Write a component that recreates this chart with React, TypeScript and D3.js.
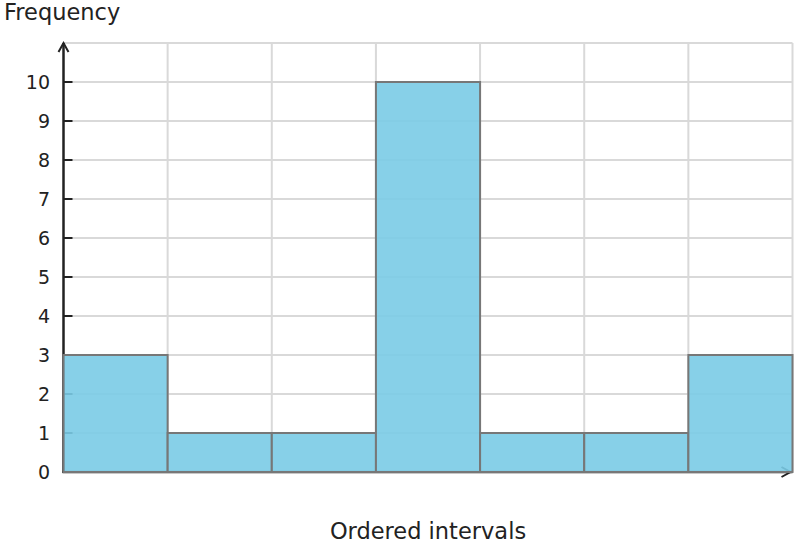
import React, { useRef, useEffect } from 'react';
import * as d3 from 'd3';

const intervals = ['I1', 'I2', 'I3', 'I4', 'I5', 'I6', 'I7'];
const frequencies = [3, 1, 1, 10, 1, 1, 3];
const yTicks = [0, 1, 2, 3, 4, 5, 6, 7, 8, 9, 10];

const width = 796;
const height = 548;
const marginL = 63.5;
const marginR = 3.5;
const marginT = 43;
const marginB = 76;

const App: React.FC = () => {
    const svgRef = useRef<SVGSVGElement>(null);

    useEffect(() => {
        if (!svgRef.current) return;
        const svg = d3.select(svgRef.current);
        svg.selectAll('*').remove();

        const font = '"DejaVu Sans", sans-serif';

        const xScale = d3.scaleBand()
            .domain(intervals)
            .range([marginL, width - marginR])
            .padding(0);

        const yScale = d3.scaleLinear()
            .domain([0, 11])
            .range([height - marginB, marginT]);

        // grid
        const grid = svg.append('g');
        grid.selectAll('.hgrid')
            .data([...yTicks.slice(1), 11])
            .enter()
            .append('line')
            .attr('x1', marginL)
            .attr('x2', width - marginR)
            .attr('y1', d => yScale(d))
            .attr('y2', d => yScale(d))
            .attr('stroke', '#d9d9d9')
            .attr('stroke-width', 2);
        grid.selectAll('.vgrid')
            .data(intervals)
            .enter()
            .append('line')
            .attr('x1', d => xScale(d)! + xScale.bandwidth())
            .attr('x2', d => xScale(d)! + xScale.bandwidth())
            .attr('y1', yScale(0))
            .attr('y2', yScale(11))
            .attr('stroke', '#d9d9d9')
            .attr('stroke-width', 2);

        // axes
        const axisColor = '#222';
        svg.append('line')
            .attr('x1', marginL).attr('x2', marginL)
            .attr('y1', yScale(0) + 1).attr('y2', yScale(11))
            .attr('stroke', axisColor).attr('stroke-width', 2.5);
        svg.append('path')
            .attr('d', `M${marginL - 5},${yScale(11) + 9} L${marginL},${yScale(11)} L${marginL + 5},${yScale(11) + 9}`)
            .attr('fill', 'none').attr('stroke', axisColor).attr('stroke-width', 2);
        svg.append('line')
            .attr('x1', marginL - 1).attr('x2', width - marginR)
            .attr('y1', yScale(0)).attr('y2', yScale(0))
            .attr('stroke', axisColor).attr('stroke-width', 2.5);
        svg.append('path')
            .attr('d', `M${width - marginR - 11},${yScale(0) - 5} L${width - marginR - 2},${yScale(0)} L${width - marginR - 11},${yScale(0) + 5}`)
            .attr('fill', 'none').attr('stroke', axisColor).attr('stroke-width', 2);

        // y ticks
        svg.selectAll('.ytick')
            .data(yTicks)
            .enter()
            .append('line')
            .attr('x1', marginL)
            .attr('x2', marginL + 9)
            .attr('y1', d => yScale(d))
            .attr('y2', d => yScale(d))
            .attr('stroke', axisColor)
            .attr('stroke-width', 2);
        svg.selectAll('.ylabel')
            .data(yTicks)
            .enter()
            .append('text')
            .attr('x', 50)
            .attr('y', d => yScale(d))
            .attr('dy', '0.35em')
            .attr('text-anchor', 'end')
            .attr('font-family', font)
            .attr('font-size', 19)
            .attr('fill', '#222')
            .text(d => d);

        // bars
        svg.selectAll('.bar')
            .data(frequencies)
            .enter()
            .append('rect')
            .attr('x', (d, i) => xScale(intervals[i])!)
            .attr('y', d => yScale(d))
            .attr('width', xScale.bandwidth())
            .attr('height', d => yScale(0) - yScale(d))
            .attr('fill', 'rgb(122,203,230)')
            .attr('fill-opacity', 0.9)
            .attr('stroke', '#777')
            .attr('stroke-width', 2);

        // titles
        svg.append('text')
            .attr('x', 4)
            .attr('y', 20)
            .attr('font-family', font)
            .attr('font-size', 22.5)
            .attr('fill', '#222')
            .text('Frequency');
        svg.append('text')
            .attr('x', 428)
            .attr('y', 539)
            .attr('text-anchor', 'middle')
            .attr('font-family', font)
            .attr('font-size', 22.5)
            .attr('fill', '#222')
            .text('Ordered intervals');
    }, []);

    return (
        <svg
            ref={svgRef}
            width={width}
            height={height}
            style={{ position: 'absolute', left: 0, top: 0, background: '#fff' }}
        />
    );
};

export default App;
